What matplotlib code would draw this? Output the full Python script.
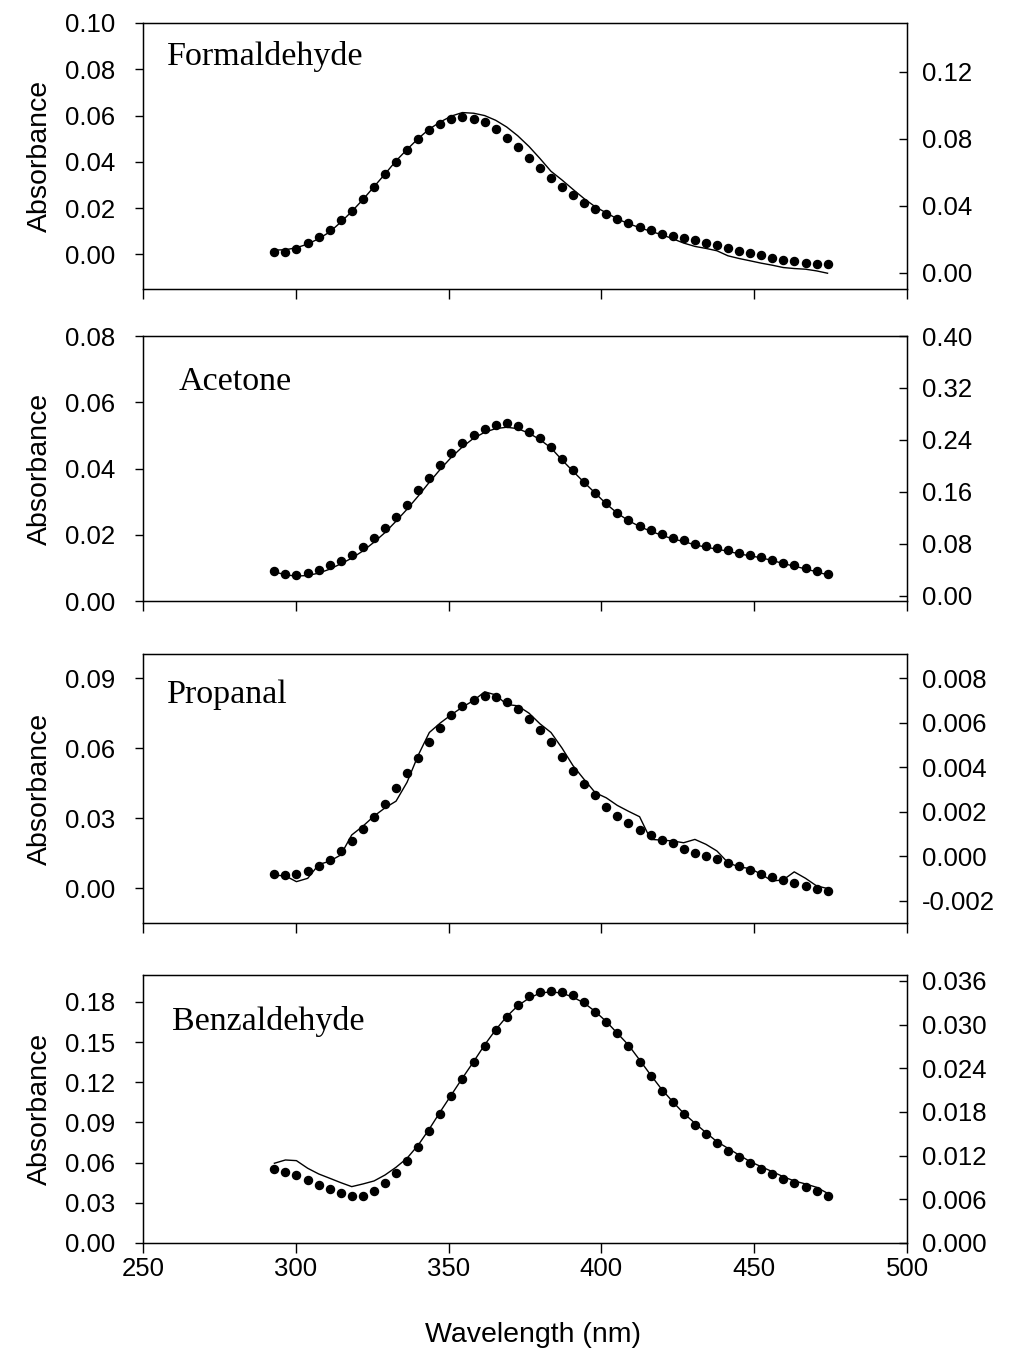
import matplotlib
matplotlib.use("Agg")
import matplotlib.pyplot as plt
from matplotlib.ticker import FormatStrFormatter

plt.rcParams['font.family'] = ['Liberation Sans', 'DejaVu Sans']

# wavelength grid (nm)
wl = [293.0, 296.6, 300.2, 303.9, 307.5, 311.1, 314.7, 318.3, 322.0, 325.6,
      329.2, 332.8, 336.4, 340.1, 343.7, 347.3, 350.9, 354.5, 358.2, 361.8,
      365.4, 369.0, 372.6, 376.3, 379.9, 383.5, 387.1, 390.7, 394.4, 398.0,
      401.6, 405.2, 408.8, 412.5, 416.1, 419.7, 423.3, 426.9, 430.6, 434.2,
      437.8, 441.4, 445.0, 448.7, 452.3, 455.9, 459.5, 463.1, 466.8, 470.4,
      474.0]

names = ["Formaldehyde", "Acetone", "Propanal", "Benzaldehyde"]

# dotted series (left axis)
form_dots = [0.0012, 0.0012, 0.0025, 0.0049, 0.0073, 0.0103, 0.0147, 0.0188, 0.0238, 0.0290,
             0.0346, 0.0401, 0.0451, 0.0498, 0.0537, 0.0564, 0.0585, 0.0592, 0.0585, 0.0570,
             0.0540, 0.0503, 0.0462, 0.0418, 0.0372, 0.0329, 0.0290, 0.0255, 0.0223, 0.0197,
             0.0175, 0.0154, 0.0137, 0.0118, 0.0103, 0.0089, 0.0079, 0.0069, 0.0061, 0.0050,
             0.0040, 0.0029, 0.0016, 0.0006, -0.0004, -0.0014, -0.0023, -0.0031, -0.0037, -0.0040,
             -0.0042]
acet_dots = [0.0090, 0.0082, 0.0080, 0.0084, 0.0093, 0.0108, 0.0122, 0.0140, 0.0163, 0.0189,
             0.0219, 0.0255, 0.0291, 0.0334, 0.0372, 0.0410, 0.0448, 0.0478, 0.0500, 0.0518,
             0.0532, 0.0537, 0.0529, 0.0510, 0.0491, 0.0464, 0.0428, 0.0394, 0.0360, 0.0327,
             0.0295, 0.0267, 0.0245, 0.0226, 0.0213, 0.0201, 0.0190, 0.0183, 0.0173, 0.0166,
             0.0160, 0.0153, 0.0146, 0.0140, 0.0134, 0.0125, 0.0116, 0.0109, 0.0101, 0.0091,
             0.0081]
prop_dots = [0.0060, 0.0054, 0.0059, 0.0074, 0.0094, 0.0119, 0.0160, 0.0201, 0.0252, 0.0304,
             0.0361, 0.0429, 0.0493, 0.0559, 0.0625, 0.0685, 0.0740, 0.0781, 0.0806, 0.0823,
             0.0820, 0.0799, 0.0766, 0.0724, 0.0679, 0.0625, 0.0560, 0.0500, 0.0447, 0.0399,
             0.0348, 0.0310, 0.0279, 0.0250, 0.0228, 0.0206, 0.0192, 0.0167, 0.0151, 0.0137,
             0.0123, 0.0108, 0.0094, 0.0076, 0.0059, 0.0048, 0.0034, 0.0020, 0.0009, -0.0004,
             -0.0013]
benz_dots = [0.0550, 0.0533, 0.0510, 0.0467, 0.0435, 0.0400, 0.0372, 0.0348, 0.0353, 0.0387,
             0.0450, 0.0522, 0.0615, 0.0717, 0.0834, 0.0961, 0.1094, 0.1221, 0.1350, 0.1470,
             0.1587, 0.1689, 0.1776, 0.1841, 0.1871, 0.1880, 0.1876, 0.1851, 0.1797, 0.1726,
             0.1647, 0.1565, 0.1467, 0.1350, 0.1245, 0.1133, 0.1053, 0.0959, 0.0881, 0.0812,
             0.0745, 0.0687, 0.0642, 0.0597, 0.0552, 0.0515, 0.0480, 0.0450, 0.0417, 0.0387,
             0.0350]

# solid series (right axis)
form_line = [0.0136, 0.0138, 0.0150, 0.0172, 0.0204, 0.0244, 0.0302, 0.0366, 0.0438, 0.0514,
             0.0590, 0.0668, 0.0736, 0.0802, 0.0858, 0.0900, 0.0935, 0.0956, 0.0952, 0.0938,
             0.0910, 0.0870, 0.0818, 0.0754, 0.0682, 0.0606, 0.0554, 0.0498, 0.0442, 0.0394,
             0.0358, 0.0322, 0.0294, 0.0270, 0.0248, 0.0228, 0.0204, 0.0178, 0.0158, 0.0146,
             0.0132, 0.0102, 0.0086, 0.0072, 0.0058, 0.0046, 0.0032, 0.0026, 0.0022, 0.0012,
             -0.0002]
acet_line = [0.0369, 0.0323, 0.0303, 0.0313, 0.0349, 0.0410, 0.0492, 0.0579, 0.0692, 0.0826,
             0.0974, 0.1149, 0.1333, 0.1538, 0.1749, 0.1949, 0.2133, 0.2292, 0.2426, 0.2518,
             0.2574, 0.2595, 0.2574, 0.2503, 0.2405, 0.2277, 0.2092, 0.1918, 0.1744, 0.1580,
             0.1415, 0.1272, 0.1159, 0.1067, 0.0995, 0.0933, 0.0877, 0.0836, 0.0785, 0.0749,
             0.0718, 0.0687, 0.0646, 0.0615, 0.0585, 0.0544, 0.0497, 0.0456, 0.0415, 0.0369,
             0.0323]
prop_line = [-0.00085, -0.00088, -0.00114, -0.00099, -0.00037, -0.00022, 0.00006, 0.00096, 0.00136, 0.00181,
             0.00218, 0.00248, 0.00333, 0.00456, 0.00557, 0.00600, 0.00637, 0.00671, 0.00701, 0.00740,
             0.00726, 0.00683, 0.00677, 0.00644, 0.00596, 0.00557, 0.00487, 0.00408, 0.00345, 0.00286,
             0.00263, 0.00229, 0.00203, 0.00178, 0.00076, 0.00073, 0.00069, 0.00061, 0.00076, 0.00054,
             0.00024, -0.00028, -0.00048, -0.00055, -0.00081, -0.00111, -0.00106, -0.00070, -0.00099, -0.00133,
             -0.00145]
benz_line = [0.01095, 0.01140, 0.01131, 0.01026, 0.00948, 0.00889, 0.00829, 0.00774, 0.00811, 0.00852,
             0.00934, 0.01040, 0.01164, 0.01347, 0.01566, 0.01804, 0.02034, 0.02263, 0.02491, 0.02721,
             0.02927, 0.03109, 0.03256, 0.03362, 0.03431, 0.03449, 0.03431, 0.03376, 0.03294, 0.03178,
             0.03041, 0.02881, 0.02721, 0.02514, 0.02308, 0.02112, 0.01942, 0.01782, 0.01645, 0.01516,
             0.01392, 0.01301, 0.01209, 0.01117, 0.01048, 0.00980, 0.00911, 0.00852, 0.00811, 0.00765,
             0.00683]

dots = [form_dots, acet_dots, prop_dots, benz_dots]
lines = [form_line, acet_line, prop_line, benz_line]

left_ticks = [[0.00, 0.02, 0.04, 0.06, 0.08, 0.10],
              [0.00, 0.02, 0.04, 0.06, 0.08],
              [0.00, 0.03, 0.06, 0.09],
              [0.00, 0.03, 0.06, 0.09, 0.12, 0.15, 0.18]]
left_lims = [(-0.015, 0.10), (0.0, 0.08), (-0.015, 0.1003), (0.0, 0.20)]
right_ticks = [[0.00, 0.04, 0.08, 0.12],
               [0.00, 0.08, 0.16, 0.24, 0.32, 0.40],
               [-0.002, 0.000, 0.002, 0.004, 0.006, 0.008],
               [0.000, 0.006, 0.012, 0.018, 0.024, 0.030, 0.036]]
right_lims = [(-0.0096, 0.149), (-0.008, 0.40), (-0.003, 0.0091), (0.0, 0.0368)]
right_fmt = ['%.2f', '%.2f', '%.3f', '%.3f']
name_pos = [(0.032, 0.875), (0.046, 0.828), (0.032, 0.85), (0.038, 0.826)]

W, H = 1014, 1352
panels = [(23, 289), (336, 601), (654, 923), (975, 1243)]

fig = plt.figure(figsize=(W / 100, H / 100), dpi=100)

for i in range(4):
    top, bot = panels[i]
    ax = fig.add_axes([143 / W, 1 - bot / H, 764 / W, (bot - top) / H])
    ax2 = ax.twinx()

    ax.plot(wl, dots[i], linestyle='none', marker='o', color='black', markersize=5.8)
    ax2.plot(wl, lines[i], color='black', linewidth=1.0)

    ax.set_xlim(250, 500)
    ax.set_xticks([250, 300, 350, 400, 450, 500])
    ax.set_ylim(*left_lims[i])
    ax.set_yticks(left_ticks[i])
    ax.yaxis.set_major_formatter(FormatStrFormatter('%.2f'))
    ax2.set_ylim(*right_lims[i])
    ax2.set_yticks(right_ticks[i])
    ax2.yaxis.set_major_formatter(FormatStrFormatter(right_fmt[i]))

    ax.tick_params(axis='x', direction='out', length=7, width=1, labelsize=18.5, pad=3)
    ax.tick_params(axis='y', direction='out', length=6, width=1, labelsize=18.5, pad=14)
    ax2.tick_params(axis='y', direction='in', length=6, width=1, labelsize=18.5, pad=11)
    if i < 3:
        ax.tick_params(axis='x', labelbottom=False)
    else:
        ax.set_xlabel("Wavelength (nm)", fontsize=20.5)
        ax.xaxis.set_label_coords(0.51, -0.293)

    ax.set_ylabel("Absorbance", fontsize=20.5, labelpad=9)
    for sp in ax.spines.values():
        sp.set_linewidth(1.0)

    ax.text(name_pos[i][0], name_pos[i][1], names[i], transform=ax.transAxes,
            fontsize=24.5, family=['Liberation Serif'], va='center', ha='left')

fig.savefig("out.png", dpi=100)
